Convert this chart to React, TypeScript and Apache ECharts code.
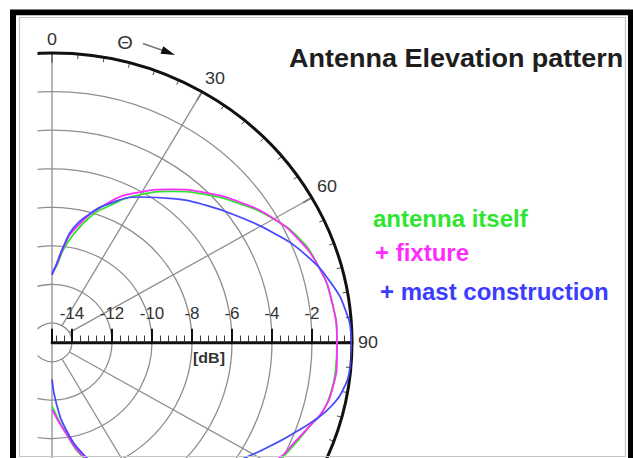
import React, { useEffect, useRef } from 'react';
import * as echarts from 'echarts';

// Page size and the vertical squeeze of the whole drawing
const W = 633;
const H = 458;
const SY = 0.964;
const Y = (v: number) => v / SY;

// Polar geometry (pixels)
const CX = 52;
const CY = Y(342.3);
const R = 300;

// Antenna itself: elevation angle (deg) and level (dB)
const antennaAngles = [0, 3.5, 6.7, 10.8, 16.3, 21.3, 29.8, 37.7, 45.2, 52.5, 59.8, 66.5, 72.5, 80, 90, 96, 100, 105, 108, 114, 118, 125, 135, 145, 155, 165, 171, 180];
const antennaDb = [-11.4, -11.0, -10.19, -9.31, -8.23, -7.47, -6.18, -5.11, -4.13, -3.18, -2.23, -1.51, -1.15, -0.88, -0.75, -0.75, -0.8, -1.0, -1.33, -1.8, -2.1, -2.9, -4.2, -5.5, -7.0, -8.8, -10.1, -11.69];

// + fixture
const fixtureAngles = [0, 3.3, 6.5, 10.4, 20.8, 29.4, 37.3, 44.9, 52.2, 59.7, 66.8, 74.0, 80.7, 90, 93.3, 99.6, 104.8, 108.2, 113.7, 117.8, 125, 135, 145, 155, 165.2, 171.3, 180];
const fixtureDb = [-11.4, -10.95, -10.1, -9.1, -7.31, -6.06, -5.03, -4.06, -3.13, -2.22, -1.55, -1.09, -0.86, -0.75, -0.73, -0.77, -1.0, -1.36, -1.85, -2.15, -3.0, -4.3, -5.6, -7.1, -8.9, -10.17, -11.51];

// + mast construction
const mastAngles = [0, 3.3, 6.5, 10.2, 15.9, 20.9, 30.2, 39.1, 47.4, 55.3, 62.7, 70.4, 78.1, 83.9, 88.6, 92, 95.7, 98.5, 103.0, 107.4, 111.5, 115.7, 120.8, 130, 140, 150, 160, 165, 170.9, 175.9, 180];
const mastDb = [-11.5, -10.91, -10.02, -8.98, -8.06, -7.36, -6.28, -5.4, -4.51, -3.59, -2.58, -1.52, -0.66, -0.21, -0.04, 0, -0.05, -0.16, -0.6, -1.32, -2.06, -2.75, -3.5, -4.6, -5.7, -6.8, -8.2, -9.0, -10.34, -11.76, -13.07];

// Angle labels shown on the outer arc, radial dB labels
const angleLabels = [0, 30, 60, 90];
const dbLabels = [-14, -12, -10, -8, -6, -4, -2];

const FONT = '"Liberation Sans", Arial, Helvetica, sans-serif';
const GRID = '#8e8e8e';
const NONE = 'rgba(0,0,0,0)';

const pairs = (angles: number[], db: number[]) => angles.map((a, i) => [db[i], a]);

export default function App() {
  const ref = useRef<HTMLDivElement>(null);

  useEffect(() => {
    if (!ref.current) return;
    const chart = echarts.init(ref.current, null, { renderer: 'svg' });

    const curve = (name: string, color: string, data: number[][]) => ({
      name,
      type: 'line',
      coordinateSystem: 'polar',
      polarIndex: 0,
      data,
      showSymbol: false,
      smooth: 0.5,
      lineStyle: { color, width: 1.8 },
      silent: true,
    });

    const legendText = (text: string, x: number, y: number, fill: string) => ({
      type: 'text',
      x,
      y: Y(y),
      z: 70,
      style: { text, fill, fontSize: 24, fontWeight: 'bold', fontFamily: FONT, align: 'left', verticalAlign: 'middle' },
    });

    // arrow head of the theta direction marker
    const tip = [175, 55];
    const dir = [0.937, 0.35];
    const base = [tip[0] - 14 * dir[0], tip[1] - 14 * dir[1]];
    const nrm = [-dir[1], dir[0]];

    chart.setOption({
      animation: false,
      backgroundColor: '#fff',
      polar: [
        { center: [CX, CY], radius: [20, R] },
        { center: [CX, CY], radius: [0, R] },
      ],
      angleAxis: [
        {
          polarIndex: 0,
          type: 'value',
          min: 0,
          max: 360,
          interval: 30,
          startAngle: 90,
          clockwise: true,
          axisLine: { show: false },
          axisTick: { show: true, inside: true, length: 10, lineStyle: { color: '#111', width: 1.5 } },
          minorTick: { show: true, splitNumber: 6, length: 5, lineStyle: { color: '#444', width: 1 } },
          axisLabel: {
            margin: 6,
            fontSize: 18,
            fontFamily: FONT,
            color: '#333',
            formatter: (v: number) => (angleLabels.indexOf(v) >= 0 ? String(v) : ''),
          },
          splitLine: {
            show: true,
            lineStyle: {
              color: [NONE, GRID, GRID, NONE, GRID, GRID, NONE, NONE, NONE, NONE, NONE, NONE, NONE],
              width: 1.3,
            },
          },
        },
        {
          polarIndex: 1,
          type: 'value',
          min: 0,
          max: 360,
          interval: 90,
          startAngle: 0,
          clockwise: true,
          axisLine: { show: true, lineStyle: { color: '#111', width: 3 } },
          axisTick: { show: false },
          axisLabel: { show: false },
          splitLine: { show: true, lineStyle: { color: [NONE, GRID, NONE, GRID, NONE], width: 1.3 } },
        },
      ],
      radiusAxis: [
        {
          polarIndex: 0,
          type: 'value',
          min: -14,
          max: 0,
          interval: 2,
          axisLine: { show: false },
          axisTick: { show: false },
          axisLabel: { show: false },
          splitLine: { show: true, lineStyle: { color: GRID, width: 1.3 } },
        },
        {
          polarIndex: 1,
          type: 'value',
          min: -15,
          max: 0,
          minInterval: 2,
          maxInterval: 2,
          axisLine: { show: true, lineStyle: { color: '#111', width: 3 } },
          axisTick: { show: true, length: 14, lineStyle: { color: '#111', width: 2 } },
          minorTick: { show: true, splitNumber: 5, length: 7, lineStyle: { color: '#333', width: 1 } },
          axisLabel: {
            margin: 21,
            fontSize: 17,
            fontFamily: FONT,
            color: '#333',
            formatter: (v: number) => (dbLabels.indexOf(v) >= 0 ? String(v) : ''),
          },
          splitLine: { show: false },
          name: '[dB]',
          nameLocation: 'middle',
          nameGap: 8,
          nameTextStyle: { fontSize: 16, fontWeight: 'bold', fontFamily: FONT, color: '#333', padding: [0, 0, 0, 14] },
        },
      ],
      series: [
        curve('antenna itself', '#2ee62e', pairs(antennaAngles, antennaDb)),
        curve('+ fixture', '#ff2cff', pairs(fixtureAngles, fixtureDb)),
        curve('+ mast construction', '#4848ff', pairs(mastAngles, mastDb)),
      ],
      graphic: [
        { type: 'rect', z: 50, shape: { x: 0, y: 0, width: 37.5, height: Y(H) + 10 }, style: { fill: '#fff' } },
        { type: 'rect', z: 60, shape: { x: 13, y: Y(12.3), width: 618, height: Y(600) }, style: { fill: 'none', stroke: '#000', lineWidth: 6 } },
        { type: 'rect', z: 60, shape: { x: 19.5, y: Y(17.5), width: 606, height: Y(456.5) - Y(17.5) }, style: { fill: 'none', stroke: '#c4c4c4', lineWidth: 1.2 } },
        {
          type: 'text',
          x: 289,
          y: Y(58),
          z: 70,
          style: { text: 'Antenna Elevation pattern', fill: '#1e1e1e', fontSize: 27, fontWeight: 'bold', fontFamily: FONT, align: 'left', verticalAlign: 'middle' },
        },
        legendText('antenna itself', 373, 219, '#2ee62e'),
        legendText('+ fixture', 375, 253.5, '#ff2cff'),
        legendText('+ mast construction', 380, 292, '#3c3cff'),
        {
          type: 'text',
          x: 125,
          y: Y(42.5),
          z: 70,
          style: { text: 'Θ', fill: '#333', fontSize: 20, fontFamily: FONT, align: 'center', verticalAlign: 'middle' },
        },
        {
          type: 'line',
          z: 70,
          shape: { x1: 143, y1: Y(43.5), x2: base[0] + 1, y2: Y(base[1] + 0.4) },
          style: { stroke: '#777', lineWidth: 1.5 },
        },
        {
          type: 'polygon',
          z: 70,
          shape: {
            points: [
              [tip[0], Y(tip[1])],
              [base[0] + 4 * nrm[0], Y(base[1] + 4 * nrm[1])],
              [base[0] - 4 * nrm[0], Y(base[1] - 4 * nrm[1])],
            ],
          },
          style: { fill: '#111' },
        },
      ],
    });

    return () => chart.dispose();
  }, []);

  return (
    <div
      ref={ref}
      style={{
        position: 'absolute',
        left: 0,
        top: 0,
        width: W,
        height: Y(H),
        transform: `scaleY(${SY})`,
        transformOrigin: '0 0',
      }}
    />
  );
}
